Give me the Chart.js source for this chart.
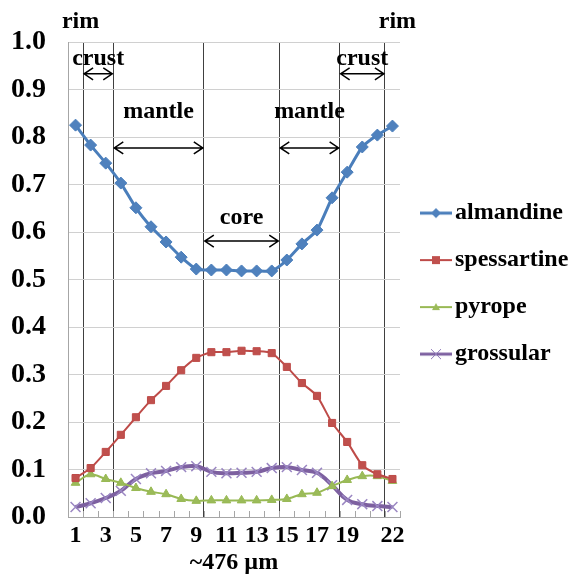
<!DOCTYPE html>
<html lang="en">
<head>
<meta charset="UTF-8" />
<title>Garnet zoning profile</title>
<script src="https://cdn.jsdelivr.net/npm/chart.js@4.4.1/dist/chart.umd.min.js"></script>
<style>
  body { margin: 0; background: #fff; }
</style>
</head>
<body>
<canvas id="chart" width="571" height="584"></canvas>
<script>
// x categories (only some labels are shown)
const xLabels = ['1', '', '3', '', '5', '', '7', '', '9', '', '11', '', '13', '', '15', '', '17', '', '19', '', '', '22'];

const almandine   = [0.825, 0.783, 0.745, 0.703, 0.651, 0.611, 0.579, 0.547, 0.522, 0.520, 0.520, 0.518, 0.518, 0.518, 0.541, 0.575, 0.604, 0.672, 0.726, 0.779, 0.804, 0.823];
const spessartine = [0.082, 0.103, 0.137, 0.173, 0.210, 0.246, 0.276, 0.309, 0.335, 0.347, 0.347, 0.350, 0.349, 0.345, 0.316, 0.282, 0.255, 0.198, 0.158, 0.109, 0.090, 0.080];
const pyrope      = [0.072, 0.090, 0.080, 0.072, 0.061, 0.053, 0.048, 0.038, 0.034, 0.035, 0.035, 0.035, 0.035, 0.036, 0.038, 0.048, 0.051, 0.065, 0.078, 0.086, 0.086, 0.076];
const grossular   = [0.021, 0.029, 0.040, 0.055, 0.080, 0.092, 0.097, 0.105, 0.107, 0.095, 0.092, 0.093, 0.095, 0.103, 0.105, 0.099, 0.093, 0.067, 0.036, 0.027, 0.023, 0.021];

// zone annotations: between category boundaries (boundary k = left edge of category k)
const zoneNames  = ['crust', 'mantle', 'core', 'mantle', 'crust'];
const zoneStart  = [1, 3, 9, 14, 18];
const zoneEnd    = [3, 9, 14, 18, 21];
const zoneArrowY = [0.933, 0.777, 0.581, 0.777, 0.933];
const zoneTextY  = [0.952, 0.840, 0.617, 0.840, 0.952];
const zoneLines  = [1, 3, 9, 14, 18, 21];
const rimAt = [0, 21];
const rimY = 1.03;

const FONT = "'Liberation Serif', 'Times New Roman', serif";

// legend swatch: short line with the marker in the middle
function legendIcon(line, fill, style, lw) {
  const c = document.createElement('canvas');
  c.width = 38; c.height = 16;
  const g = c.getContext('2d');
  g.strokeStyle = line; g.lineWidth = lw;
  g.beginPath(); g.moveTo(6, 8); g.lineTo(38, 8); g.stroke();
  g.fillStyle = fill; g.strokeStyle = fill; g.lineWidth = 1;
  g.beginPath();
  const m = 22;
  if (style === 'diamond') {
    g.moveTo(m, 3); g.lineTo(m + 5, 8); g.lineTo(m, 13); g.lineTo(m - 5, 8); g.closePath(); g.fill();
  } else if (style === 'square') {
    g.fillRect(m - 4, 4, 8, 8);
  } else if (style === 'triangle') {
    g.moveTo(m, 4); g.lineTo(m + 4, 11); g.lineTo(m - 4, 11); g.closePath(); g.fill();
  } else {
    g.moveTo(m - 5, 3); g.lineTo(m + 5, 13); g.moveTo(m + 5, 3); g.lineTo(m - 5, 13); g.stroke();
  }
  return c;
}

const icons = [
  legendIcon('#4A7EBB', '#4F81BD', 'diamond', 3),
  legendIcon('#BE4B48', '#C0504D', 'square', 2),
  legendIcon('#98B954', '#9BBB59', 'triangle', 2),
  legendIcon('#7D60A0', '#8F78B8', 'cross', 3)
];

function boundary(scale, k) {
  const half = (scale.getPixelForValue(1) - scale.getPixelForValue(0)) / 2;
  return scale.getPixelForValue(k) - half;
}

const zonePlugin = {
  id: 'zones',
  beforeDatasetsDraw(chart) {
    const x = chart.scales.x, y = chart.scales.y, ctx = chart.ctx;
    ctx.save();
    ctx.strokeStyle = '#A6A6A6';
    ctx.lineWidth = 1;
    for (let k = 0; k <= xLabels.length; k++) {
      const px = Math.round(boundary(x, k)) + 0.5;
      ctx.beginPath();
      ctx.moveTo(px, y.bottom);
      ctx.lineTo(px, y.bottom - 6);
      ctx.stroke();
    }
    ctx.restore();
  },
  afterDraw(chart) {
    const x = chart.scales.x, y = chart.scales.y, ctx = chart.ctx;
    ctx.save();
    ctx.fillStyle = '#000';
    ctx.strokeStyle = '#000';
    ctx.font = 'bold 24px ' + FONT;
    ctx.textAlign = 'center';
    ctx.textBaseline = 'alphabetic';
    zoneNames.forEach((name, i) => {
      const x1 = boundary(x, zoneStart[i]);
      const x2 = boundary(x, zoneEnd[i]);
      const ay = y.getPixelForValue(zoneArrowY[i]);
      ctx.fillText(name, (x1 + x2) / 2, y.getPixelForValue(zoneTextY[i]));
      ctx.lineWidth = 1.5;
      ctx.beginPath();
      ctx.moveTo(x1 + 1, ay); ctx.lineTo(x2 - 1, ay);
      ctx.moveTo(x1 + 10, ay - 6); ctx.lineTo(x1 + 1, ay); ctx.lineTo(x1 + 10, ay + 6);
      ctx.moveTo(x2 - 10, ay - 6); ctx.lineTo(x2 - 1, ay); ctx.lineTo(x2 - 10, ay + 6);
      ctx.stroke();
    });
    rimAt.forEach(k => {
      ctx.fillText('rim', x.getPixelForValue(k) + 5, y.getPixelForValue(rimY));
    });
    ctx.restore();
  }
};

const ctx = document.getElementById('chart').getContext('2d');
new Chart(ctx, {
  type: 'line',
  data: {
    labels: xLabels,
    datasets: [{
      label: 'almandine',
      data: almandine,
      borderColor: '#4A7EBB',
      backgroundColor: '#4F81BD',
      borderWidth: 3,
      pointStyle: 'rectRot',
      pointRadius: 6,
      pointBorderWidth: 1,
      tension: 0.2
    }, {
      label: 'spessartine',
      data: spessartine,
      borderColor: '#BE4B48',
      backgroundColor: '#C0504D',
      borderWidth: 2,
      pointStyle: 'rect',
      pointRadius: 5,
      pointBorderWidth: 1,
      tension: 0.2
    }, {
      label: 'pyrope',
      data: pyrope,
      borderColor: '#98B954',
      backgroundColor: '#9BBB59',
      borderWidth: 2,
      pointStyle: 'triangle',
      pointRadius: 5,
      pointBorderWidth: 1,
      tension: 0.3
    }, {
      label: 'grossular',
      data: grossular,
      borderColor: '#7D60A0',
      backgroundColor: '#8F78B8',
      pointBorderColor: '#9A86C2',
      borderWidth: 4,
      pointStyle: 'crossRot',
      pointRadius: 7,
      pointBorderWidth: 1.5,
      tension: 0.4
    }]
  },
  options: {
    responsive: false,
    animation: false,
    layout: { padding: { top: 42, left: 8, right: 0, bottom: 7 } },
    plugins: {
      tooltip: { enabled: false },
      legend: {
        position: 'right',
        fullSize: false,
        maxWidth: 171,
        // invisible title only nudges the entries down a little
        title: { display: true, text: ' ', font: { size: 1 }, padding: 3.5 },
        labels: {
          color: '#000',
          font: { family: FONT, size: 24, weight: 'bold' },
          usePointStyle: true,
          pointStyleWidth: 20,
          boxHeight: 14,
          padding: 23,
          generateLabels(chart) {
            const items = Chart.defaults.plugins.legend.labels.generateLabels(chart);
            items.forEach((it, i) => { it.pointStyle = icons[i]; });
            return items;
          }
        }
      }
    },
    scales: {
      x: {
        offset: true,
        afterFit(scale) { scale.height = 60; },
        grid: {
          offset: true,
          drawTicks: false,
          color: c => zoneLines.includes(c.index) ? '#404040' : (c.index === xLabels.length ? '#A6A6A6' : 'rgba(0,0,0,0)')
        },
        border: { color: '#A6A6A6' },
        ticks: {
          autoSkip: false,
          maxRotation: 0,
          padding: 4,
          color: '#000',
          font: { family: FONT, size: 24, weight: 'bold' }
        },
        title: {
          display: true,
          text: '~476 µm',
          color: '#000',
          padding: { top: 0, bottom: 0 },
          font: { family: FONT, size: 24, weight: 'bold' }
        }
      },
      y: {
        min: 0,
        max: 1,
        afterFit(scale) { scale.width = 60; },
        grid: { color: '#D0D0D0', drawTicks: false },
        border: { color: '#A6A6A6' },
        ticks: {
          stepSize: 0.1,
          padding: 22,
          color: '#000',
          font: { family: FONT, size: 28, weight: 'bold' },
          callback: v => v.toFixed(1)
        }
      }
    }
  },
  plugins: [zonePlugin]
});
</script>
</body>
</html>
